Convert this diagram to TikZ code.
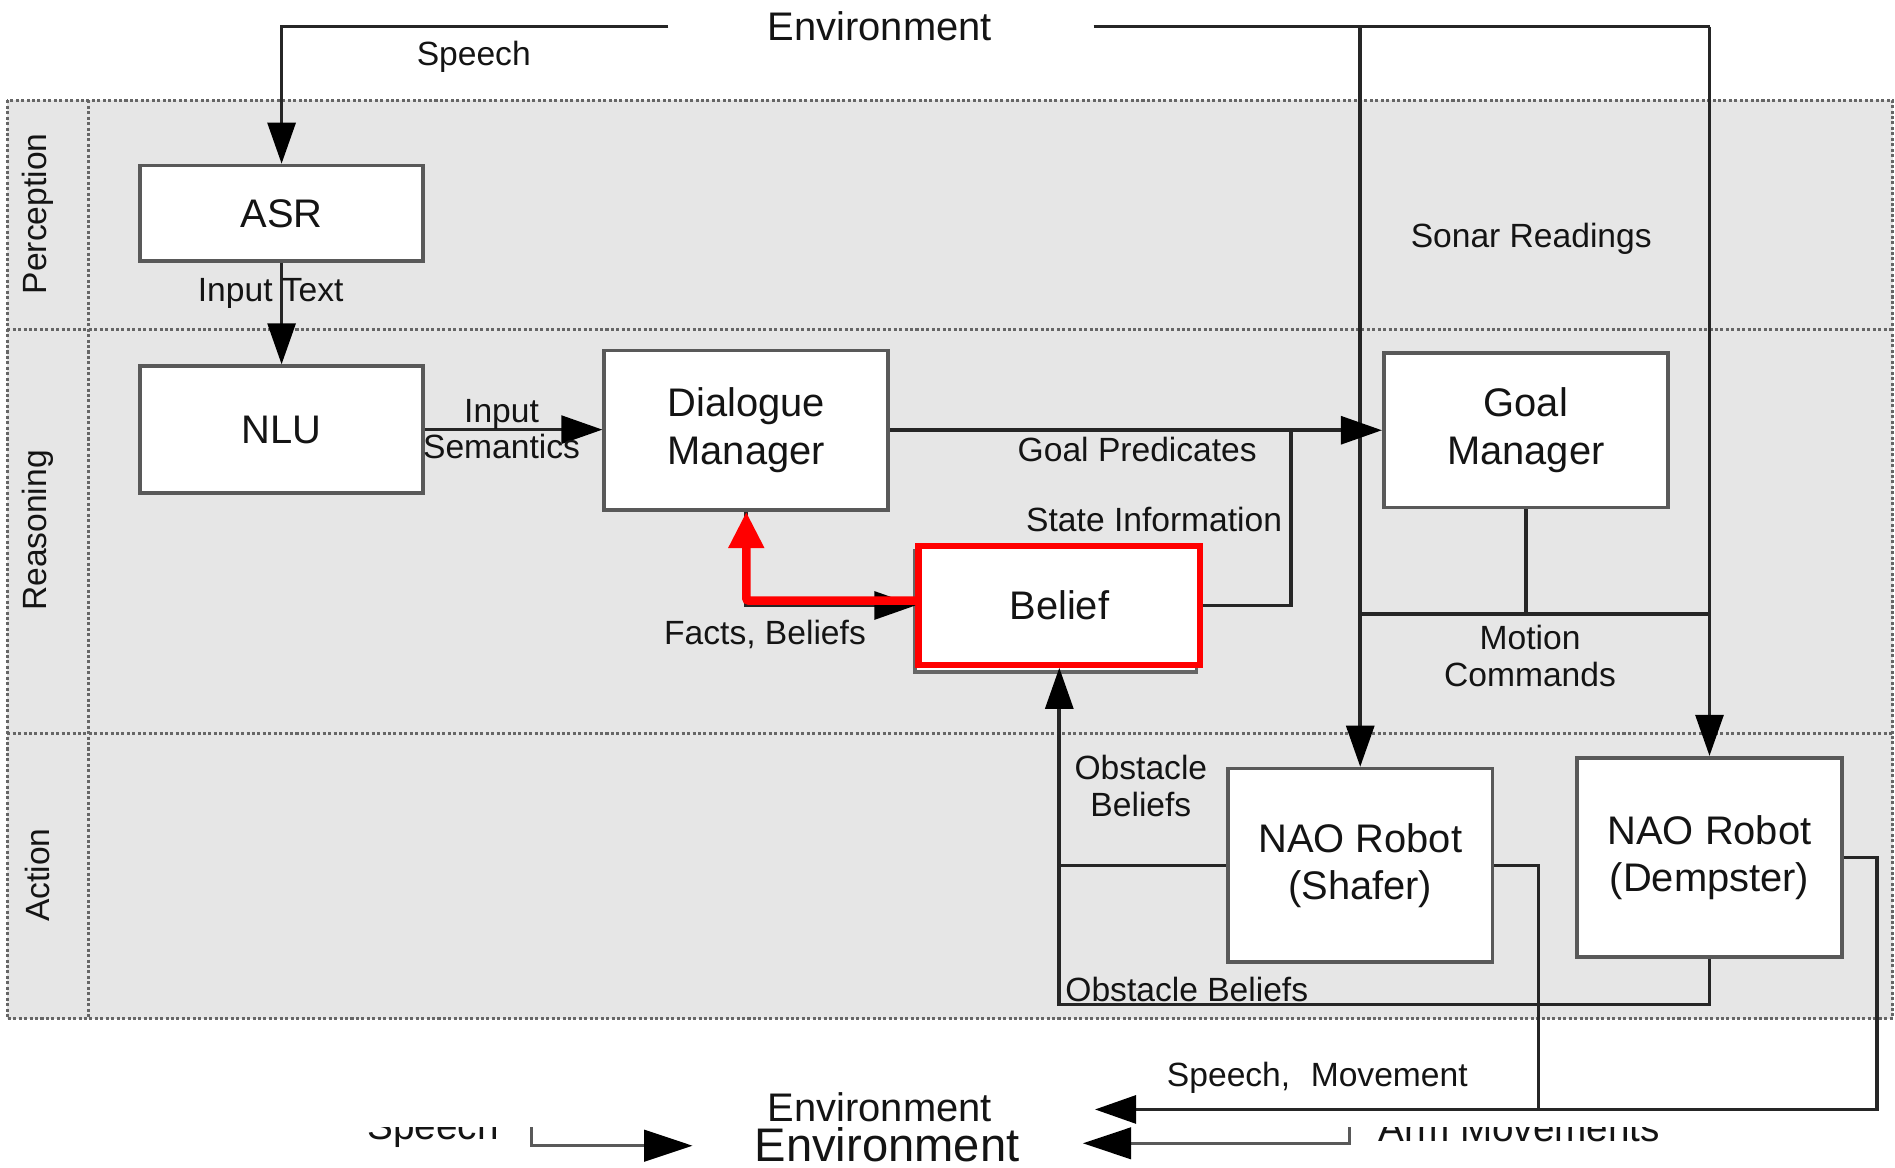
\documentclass[tikz,border=0pt]{standalone}
\usepackage{fontspec}
\setmainfont{Liberation Sans}
\usetikzlibrary{arrows.meta}
\newcommand\fbig{\fontsize{33}{39}\selectfont}
\newcommand\fsmall{\fontsize{27.8}{30.5}\selectfont}
\newcommand\flbig{\fontsize{39}{44}\selectfont}
\newcommand\flsmall{\fontsize{32}{36}\selectfont}
\definecolor{pool}{HTML}{E6E6E6}
\definecolor{ink}{HTML}{141414}
\definecolor{hl}{HTML}{FF0000}

\begin{document}
\begin{tikzpicture}[x=1pt,y=-1pt,
  box/.style={draw=black!65, line width=3pt, fill=white, inner sep=0pt,
    align=center, font=\fbig, text=ink},
  lbl/.style={font=\fsmall, text=ink, inner sep=0pt, align=center},
  conn/.style={draw=black!85, line width=3pt},
  arr/.style={conn, -{Triangle[length=34pt,width=23pt,color=black]}},
  hlarr/.style={draw=hl, line width=7pt, rounded corners=2pt,
    -{Triangle[length=30pt,width=28pt]}},
  lowarr/.style={draw=black!65, line width=2.5pt,
    -{Triangle[length=40pt,width=26pt,color=black]}},
  lane/.style={draw=black!60, line width=2.5pt, dash pattern=on 2.5pt off 2pt},
]
\useasboundingbox (0,0) rectangle (1568,966);
\fill[white] (0,0) rectangle (1568,966);

% swimlane pool with its three lanes
\fill[pool] (6,83) rectangle (1566,843);
\draw[lane] (6,83) rectangle (1566,843);
\draw[lane] (6,273) -- (1566,273);
\draw[lane] (6,607) -- (1566,607);
\draw[lane] (73,83) -- (73,843);
\node[lbl, rotate=90] (lanep) at (31,177) {Perception};
\node[lbl, rotate=90] (laner) at (31,439) {Reasoning};
\node[lbl, rotate=90] (lanea) at (31,724) {Action};

% environment labels
\node[font=\fbig, text=ink, inner sep=0pt] (envtop) at (728,21.5) {Environment};
\node[font=\fbig, text=ink, inner sep=0pt] (envbot) at (728,916.5) {Environment};

% components
\node[box, minimum width=234pt, minimum height=79pt]  (asr) at (233,176.5) {ASR};
\node[box, minimum width=234pt, minimum height=105pt] (nlu) at (233,355.5) {NLU};
\node[box, minimum width=235pt, minimum height=132pt] (dm)  at (617.5,356) {Dialogue\\Manager};
\node[box, minimum width=235pt, minimum height=128pt] (gm)  at (1262.5,356) {Goal\\Manager};
\draw[draw=black!60, line width=3pt, fill=white] (757,456) rectangle (990,556);
\node[box, draw=hl, line width=5pt, minimum width=233pt, minimum height=98pt] (belief) at (876.5,501) {Belief};
\node[box, minimum width=219pt, minimum height=160pt] (shafer)   at (1125.5,716) {NAO Robot\\(Shafer)};
\node[box, minimum width=219pt, minimum height=165pt] (dempster) at (1414.5,709.5) {NAO Robot\\(Dempster)};

% junction points
\coordinate (tl) at (553,22);
\coordinate (tr) at (905,22);
\coordinate (tc) at (1125.5,22);
\coordinate (tx) at (1414.5,22);
\coordinate (si) at (1068,356);
\coordinate (ml) at (1125.5,508);
\coordinate (mr) at (1414.5,508);
\coordinate (ob) at (876.5,831);
\coordinate (so) at (1273,918);
\coordinate (do) at (1553,918);
\coordinate (et) at (906,918);

% perception
\draw[arr] (tl) -| (asr.north);
\draw[arr] (asr.south) -- (nlu.north);
\draw[conn] (tr) -- (tx);
\draw[arr] (tx) -- (dempster.north);
\draw[arr] (tc) -- (shafer.north);

% reasoning
\draw[arr] (nlu.east) -- (nlu.east -| dm.west);
\draw[arr] (dm.east) -- (gm.west);
\draw[conn] (belief.east) -| (si);
\draw[arr] (dm.south) |- (belief.west);
\draw[hlarr] ([yshift=4pt]belief.west) -| (dm.south);
\draw[conn] (gm.south) |- (ml);
\draw[conn] (gm.south |- ml) -- (mr);

% action
\draw[arr] (shafer.west) -| (belief.south);
\draw[conn] (dempster.south) |- (ob) -- (ob |- shafer.west);
\draw[conn] (shafer.east) -| (so);
\draw[arr] (dempster.east) -| (do) -- (et);

% connector labels
\node[lbl] (lspeech) at (392,47) {Speech};
\node[lbl] (linput) at (224,243) {Input Text};
\node[lbl] (lsem) at (415,355) {Input\\Semantics};
\node[lbl] (lgoal) at (941,372) {Goal Predicates};
\node[lbl] (lstate) at (955,430) {State Information};
\node[lbl] (lfacts) at (633,525) {Facts, Beliefs};
\node[lbl] (lsonar) at (1267,198) {Sonar Readings};
\node[lbl] (lmotion) at (1266,543) {Motion\\Commands};
\node[lbl] (lobs) at (944,650) {Obstacle\\Beliefs};
\node[lbl] (lobs2) at (982,819) {Obstacle Beliefs};
\node[lbl] (lsm) at (1090,892) {Speech,\hspace{17pt}Movement};

% second environment strip, its upper part hidden
\begin{scope}
  \clip (0,933) rectangle (1568,966);
  \node[font=\flbig, text=ink, inner sep=0pt] (lenv) at (734,947) {Environment};
  \node[font=\flsmall, text=ink, inner sep=0pt, anchor=base] (lsp) at (358.5,943) {Speech};
  \node[font=\flsmall, text=ink, inner sep=0pt, anchor=base] (larm) at (1257,944.5) {Arm Movements};
  \coordinate (ls1) at (440,920);
  \coordinate (ls2) at (573,948);
  \coordinate (rs1) at (1117,920);
  \coordinate (rs2) at (896,946);
  \draw[lowarr] (ls1) |- (ls2);
  \draw[lowarr] (rs1) |- (rs2);
\end{scope}
\end{tikzpicture}
\end{document}
